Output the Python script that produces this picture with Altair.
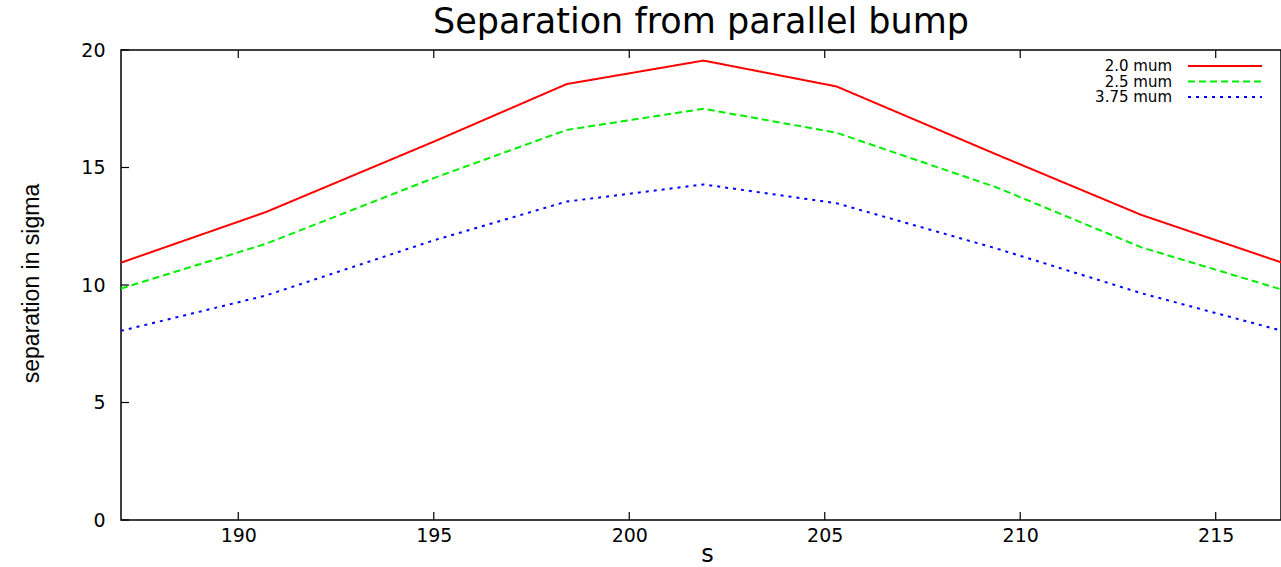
import altair as alt
import pandas as pd

# Beam separation (in sigma) along s for three emittance settings
s_values = [187.0, 190.7, 195.0, 198.4, 201.9, 205.3, 209.4, 213.1, 216.7]
sep_2_0 = [10.95, 13.1, 16.1, 18.55, 19.55, 18.45, 15.55, 12.98, 10.95]
sep_2_5 = [9.85, 11.75, 14.55, 16.6, 17.5, 16.48, 14.15, 11.6, 9.8]
sep_3_75 = [8.05, 9.55, 11.9, 13.55, 14.28, 13.48, 11.55, 9.65, 8.05]

series_labels = ["2.0 mum", "2.5 mum", "3.75 mum"]
series_colors = ["#ff0000", "#00ee00", "#0000ff"]
series_dashes = [[1, 0], [7, 4], [3, 5]]

x_ticks = [190, 195, 200, 205, 210, 215]
y_ticks = [0, 5, 10, 15, 20]

W, H = 1160, 470
FONT = "DejaVu Sans"

rows = []
for label, vals in zip(series_labels, [sep_2_0, sep_2_5, sep_3_75]):
    for s, v in zip(s_values, vals):
        rows.append({"s": s, "sep": v, "series": label})
df = pd.DataFrame(rows)

x_enc = alt.X(
    "s:Q",
    scale=alt.Scale(domain=[187.0, 216.67], nice=False, zero=False),
    axis=alt.Axis(
        values=x_ticks, title="s", grid=False, ticks=False, domain=False,
        labelFont=FONT, labelFontSize=19, labelColor="black", labelPadding=6,
        titleFont=FONT, titleFontSize=24, titleFontWeight="normal", titleColor="black",
        titleX=586, titleY=41, titleBaseline="alphabetic", titleAlign="center",
    ),
)
y_enc = alt.Y(
    "sep:Q",
    scale=alt.Scale(domain=[0, 20], nice=False),
    axis=alt.Axis(
        values=y_ticks, title="separation in sigma", grid=False, ticks=False, domain=False,
        labelFont=FONT, labelFontSize=19, labelColor="black", labelPadding=16,
        titleFont="Liberation Sans", titleFontSize=23, titleFontWeight="normal", titleColor="black",
        titleAngle=270, titleX=-90, titleY=233, titleAlign="center", titleBaseline="middle",
    ),
)

lines = alt.Chart(df).mark_line(strokeWidth=2).encode(
    x=x_enc,
    y=y_enc,
    color=alt.Color("series:N", scale=alt.Scale(domain=series_labels, range=series_colors), legend=None),
    strokeDash=alt.StrokeDash("series:N", scale=alt.Scale(domain=series_labels, range=series_dashes), legend=None),
)

# inward tick marks on bottom, top and left edges
xt = pd.DataFrame({"s": x_ticks})
yt = pd.DataFrame({"sep": y_ticks})
bottom_ticks = alt.Chart(xt).mark_rule(color="black", strokeWidth=1.2).encode(
    x=x_enc, y=alt.value(H), y2=alt.value(H - 8))
top_ticks = alt.Chart(xt).mark_rule(color="black", strokeWidth=1.2).encode(
    x=x_enc, y=alt.value(0), y2=alt.value(8))
left_ticks = alt.Chart(yt).mark_rule(color="black", strokeWidth=1.2).encode(
    y=y_enc, x=alt.value(0), x2=alt.value(8))

# chart heading above the frame
heading = alt.Chart(pd.DataFrame({"t": ["Separation from parallel bump"]})).mark_text(
    align="center", baseline="alphabetic", font=FONT, fontSize=35, color="black"
).encode(text="t:N", x=alt.value(580), y=alt.value(-17))

# key in the upper right corner: label on the left, line sample on the right
key_layers = []
for i, (label, color, dash) in enumerate(zip(series_labels, series_colors, series_dashes)):
    ky = 16 + 15.5 * i
    kd = pd.DataFrame({"label": [label]})
    key_layers.append(
        alt.Chart(kd).mark_text(align="right", baseline="middle", font=FONT, fontSize=15, color="black")
        .encode(text="label:N", x=alt.value(1051), y=alt.value(ky))
    )
    key_layers.append(
        alt.Chart(kd).mark_rule(color=color, strokeDash=dash, strokeWidth=2)
        .encode(x=alt.value(1067), x2=alt.value(1141), y=alt.value(ky))
    )

chart = alt.layer(lines, bottom_ticks, top_ticks, left_ticks, heading, *key_layers).properties(
    width=W,
    height=H,
    background="white",
    autosize=alt.AutoSizeParams(type="none"),
    padding={"left": 121, "top": 50, "right": 0, "bottom": 47},
).configure_view(
    stroke="black", strokeWidth=1.5
)

chart.save("out.html", embed_options={"renderer": "svg", "actions": False})
